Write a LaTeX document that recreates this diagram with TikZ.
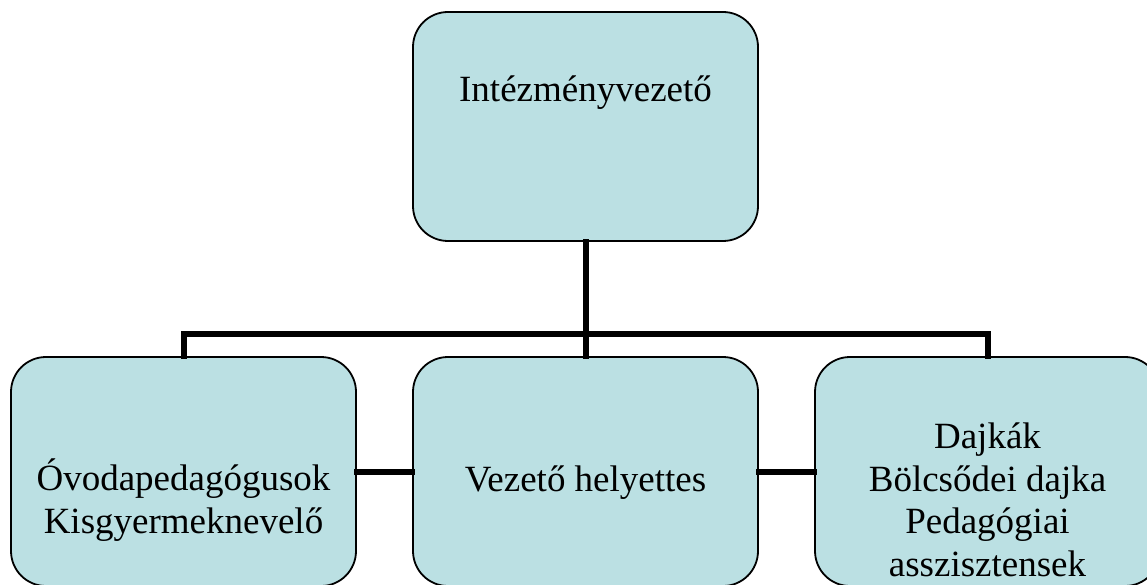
\documentclass[tikz,border=0pt]{standalone}
\usepackage{fontspec}
\setmainfont{Liberation Serif}
\usepackage{tikz}
\usepackage{xcolor}
\definecolor{BoxFill}{HTML}{BBE0E3}
\usetikzlibrary{positioning}

\tikzset{
  unit/.style={draw=black, line width=1.8pt, fill=BoxFill, rounded corners=35pt,
    minimum width=345pt, minimum height=229pt, inner sep=0pt},
  unittext/.style={font=\fontsize{37}{42.5}\selectfont, align=center, anchor=base, inner sep=0pt},
  link/.style={line width=6pt, line cap=rect}
}

\begin{document}
\begin{tikzpicture}[x=1pt, y=1pt]
  \useasboundingbox (0,0) rectangle (1147,584);
  \clip (0,0) rectangle (1147,584);

  % Boxes
  \node[unit] (chief) at (585.5,457.5) {};
  \node[unit] (teachers) at (183.5,112.5) {};
  \node[unit] (deputy) at (585.5,112.5) {};
  \node[unit] (nurses) at (987.5,112.5) {};

  % Connectors
  \coordinate (bus) at ([yshift=-92pt]chief.south);
  \draw[link] (chief.south) -- (bus);
  \draw[link] (teachers.north) |- (bus) -| (nurses.north);
  \draw[link] (bus) -- (deputy.north);
  \draw[link] (teachers.east) -- (deputy.west);
  \draw[link] (deputy.east) -- (nurses.west);

  % Texts (base = baseline of the last line)
  \node[unittext] (chieflabel) at ([yshift=25pt]chief.center) {Intézményvezető};
  \node[unittext] (teacherslabel) at ([yshift=-61.5pt]teachers.center) {Óvodapedagógusok\\Kisgyermeknevelő};
  \node[unittext] (deputylabel) at ([yshift=-20pt]deputy.center) {Vezető helyettes};
  \node[unittext] (nurseslabel) at ([yshift=-104.5pt]nurses.center) {Dajkák\\Bölcsődei dajka\\Pedagógiai\\asszisztensek};
\end{tikzpicture}
\end{document}
